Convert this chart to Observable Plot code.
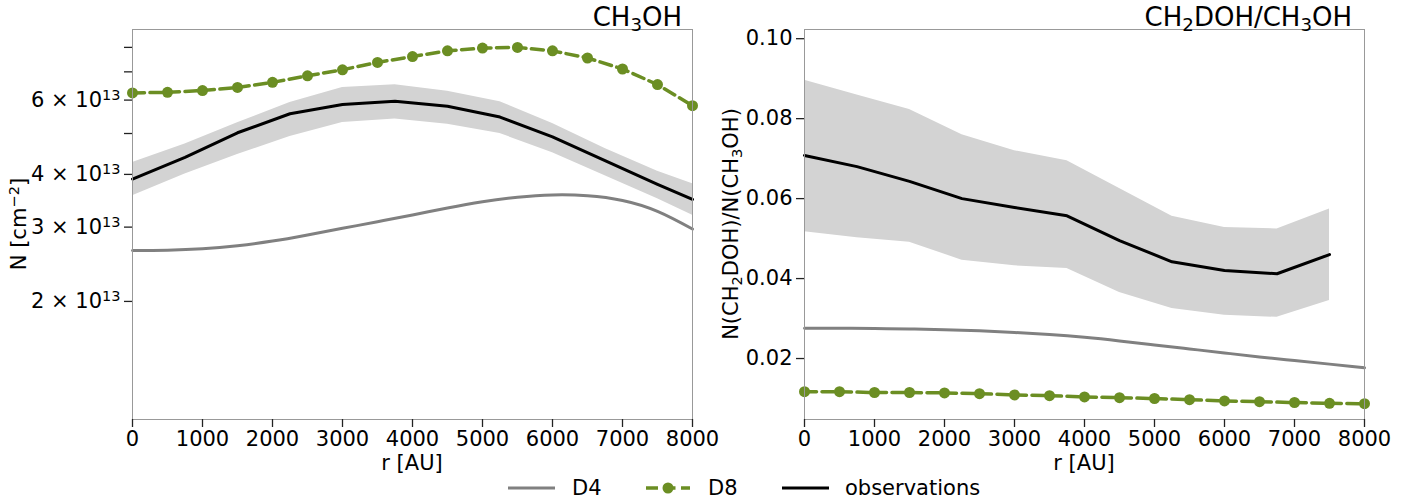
<!DOCTYPE html>
<html><head><meta charset="utf-8">
<script src="https://cdn.jsdelivr.net/npm/d3@7"></script>
<script src="https://cdn.jsdelivr.net/npm/@observablehq/plot@0.6"></script>
<style>
body{margin:0;background:#fff;font-family:"DejaVu Sans",sans-serif;}
#wrap{position:relative;width:1413px;height:501px;overflow:hidden;background:#fff;}
.abs{position:absolute;white-space:nowrap;line-height:1;color:#000;}
.sub{font-size:70%;position:relative;top:0.3em;}
.sup{font-size:70%;position:relative;top:-0.45em;}
.rot{transform:translate(-50%,-50%) rotate(-90deg);}
</style></head><body>
<div id="wrap">
  <div id="left" class="abs" style="left:0;top:0"></div>
  <div id="right" class="abs" style="left:706px;top:0"></div>
  <div class="abs" style="right:731px;top:4px;font-size:26px">CH<span class="sub">3</span>OH</div>
  <div class="abs" style="right:61px;top:4px;font-size:26px">CH<span class="sub">2</span>DOH/CH<span class="sub">3</span>OH</div>
  <div class="abs" style="left:412px;top:463px;font-size:21px;transform:translate(-50%,-50%)">r [AU]</div>
  <div class="abs" style="left:1084px;top:463px;font-size:21px;transform:translate(-50%,-50%)">r [AU]</div>
  <div class="abs rot" style="left:19px;top:224px;font-size:21px">N [cm<span class="sup">&minus;2</span>]</div>
  <div class="abs rot" style="left:731px;top:224px;font-size:21px">N(CH<span class="sub">2</span>DOH)/N(CH<span class="sub">3</span>OH)</div>
  <svg class="abs" style="left:0;top:0" width="1413" height="501">
    <line x1="508" x2="555" y1="488" y2="488" stroke="#808080" stroke-width="3"/>
    <line x1="646" x2="690" y1="488" y2="488" stroke="#6b8e23" stroke-width="3.5" stroke-dasharray="12,5.5"/>
    <circle cx="668" cy="488" r="5.5" fill="#6b8e23"/>
    <line x1="782" x2="829" y1="488" y2="488" stroke="#000" stroke-width="3"/>
  </svg>
  <div class="abs" style="left:572px;top:478px;font-size:21px">D4</div>
  <div class="abs" style="left:708px;top:478px;font-size:21px">D8</div>
  <div class="abs" style="left:845px;top:478px;font-size:21px">observations</div>
</div>
<script>
// ---- data ----
const rModel = [0,500,1000,1500,2000,2500,3000,3500,4000,4500,5000,5500,6000,6500,7000,7500,8000];
const d4Left = [2.64e13,2.645e13,2.665e13,2.71e13,2.78e13,2.875e13,2.98e13,3.09e13,3.205e13,3.33e13,3.445e13,3.53e13,3.575e13,3.56e13,3.47e13,3.27e13,2.97e13];
const d8Left = [6.24e13,6.26e13,6.32e13,6.43e13,6.61e13,6.85e13,7.08e13,7.37e13,7.61e13,7.85e13,7.97e13,8.00e13,7.85e13,7.55e13,7.11e13,6.53e13,5.82e13];
const rObsLeft = [0,750,1500,2250,3000,3750,4500,5250,6000,6750,7500,8000];
const obsLeftMid = [3.90e13,4.39e13,5.02e13,5.57e13,5.86e13,5.96e13,5.80e13,5.47e13,4.91e13,4.31e13,3.79e13,3.49e13];
const obsLeftHi  = [4.27e13,4.72e13,5.30e13,5.92e13,6.43e13,6.52e13,6.30e13,5.95e13,5.28e13,4.61e13,4.07e13,3.80e13];
const obsLeftLo  = [3.56e13,4.01e13,4.46e13,4.92e13,5.31e13,5.41e13,5.26e13,5.00e13,4.50e13,3.97e13,3.50e13,3.20e13];

const d4Right = [0.0276,0.02758,0.0275,0.02738,0.0272,0.02692,0.02652,0.0260,0.0253,0.0244,0.0234,0.0224,0.0214,0.0204,0.0195,0.0186,0.0177];
const d8Right = [0.0117,0.0117,0.0115,0.0115,0.0114,0.0112,0.0109,0.0107,0.0104,0.0102,0.0100,0.0097,0.0094,0.0092,0.0090,0.0088,0.0087];
const rObsRight = [0,750,1500,2250,3000,3750,4500,5250,6000,6750,7500];
const obsRightMid = [0.0708,0.0680,0.0643,0.0600,0.0578,0.0557,0.0495,0.0442,0.0420,0.0412,0.0460];
const obsRightHi  = [0.0896,0.0859,0.0823,0.0760,0.0720,0.0695,0.0625,0.0556,0.0528,0.0524,0.0574];
const obsRightLo  = [0.0517,0.0502,0.0491,0.0446,0.0432,0.0425,0.0365,0.0325,0.0308,0.0303,0.0345];

const xTicks = [0,1000,2000,3000,4000,5000,6000,7000,8000];
const leftYTicks = [2e13,3e13,4e13,5e13,6e13,7e13,8e13];
const leftYLabeled = [2e13,3e13,4e13,6e13];
const rightYTicks = [0.02,0.04,0.06,0.08,0.10];

// ---- tables ----
const modL = rModel.map((r,i)=>({r, d4:d4Left[i], d8:d8Left[i]}));
const modR = rModel.map((r,i)=>({r, d4:d4Right[i], d8:d8Right[i]}));
const obsL = rObsLeft.map((r,i)=>({r, mid:obsLeftMid[i], hi:obsLeftHi[i], lo:obsLeftLo[i]}));
const obsR = rObsRight.map((r,i)=>({r, mid:obsRightMid[i], hi:obsRightHi[i], lo:obsRightLo[i]}));

const GRAY="#808080", GREEN="#6b8e23";
const style = {fontFamily:"DejaVu Sans, sans-serif", fontSize:"21px", color:"#000", background:"transparent", overflow:"visible"};

function marks(mod, obs, yAxis){
  return [
    Plot.areaY(obs,{x:"r",y1:"lo",y2:"hi",fill:"#d3d3d3"}),
    Plot.line(mod,{x:"r",y:"d4",stroke:GRAY,strokeWidth:3,curve:"natural"}),
    Plot.line(mod,{x:"r",y:"d8",stroke:GREEN,strokeWidth:3.5,strokeDasharray:"12,5.5"}),
    Plot.dot(mod,{x:"r",y:"d8",r:5.5,fill:GREEN,stroke:null}),
    Plot.line(obs,{x:"r",y:"mid",stroke:"#000",strokeWidth:3}),
    Plot.frame({stroke:"#999"}),
    Plot.axisX({ticks:xTicks,tickSize:8,tickPadding:4,label:null,tickFormat:d3.format("d"),stroke:"#222",strokeWidth:1.3,fill:"#000"}),
    yAxis
  ];
}

const left = Plot.plot({
  width:706,height:475,marginLeft:132,marginRight:14,marginTop:29,marginBottom:56,
  style,
  x:{domain:[0,8000]},
  y:{type:"log",domain:[1.05e13,8.82e13]},
  marks: marks(modL, obsL, Plot.axisY({ticks:leftYTicks,tickSize:8,tickPadding:4,label:null,stroke:"#222",strokeWidth:1.3,fill:"#000",
    tickFormat:d=>leftYLabeled.includes(d) ? `${Math.round(d/1e13)} × 10^13` : ""}))
});
document.getElementById("left").appendChild(left);

const right = Plot.plot({
  width:707,height:475,marginLeft:98,marginRight:49,marginTop:29,marginBottom:56,
  style,
  x:{domain:[0,8000]},
  y:{domain:[0.00475,0.1023]},
  marks: marks(modR, obsR, Plot.axisY({ticks:rightYTicks,tickSize:8,tickPadding:4,label:null,stroke:"#222",strokeWidth:1.3,fill:"#000",tickFormat:d3.format(".2f")}))
});
document.getElementById("right").appendChild(right);

// superscript exponents on the log axis labels
left.querySelectorAll('g[aria-label="y-axis tick label"] text').forEach(t=>{
  const s = t.textContent;
  if (s.includes("^")) {
    const [base, exp] = s.split("^");
    t.textContent = "";
    const a = document.createElementNS("http://www.w3.org/2000/svg","tspan");
    a.textContent = base;
    const b = document.createElementNS("http://www.w3.org/2000/svg","tspan");
    b.textContent = exp;
    b.setAttribute("font-size","14.5");
    b.setAttribute("dy","-0.5em");
    t.appendChild(a); t.appendChild(b);
  }
});
</script>
</body></html>
